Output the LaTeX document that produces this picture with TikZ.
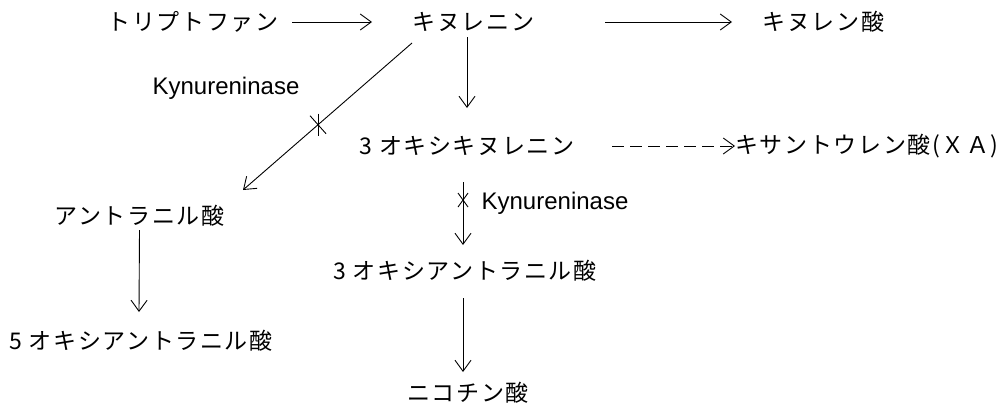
\documentclass[tikz,border=0pt]{standalone}
\usepackage{fontspec}
\usetikzlibrary{arrows.meta}
\newfontfamily\jpfont[LetterSpace=7]{Noto Sans CJK JP}
\newfontfamily\enfont{Liberation Sans}
\tikzset{
  jp/.style={inner sep=0pt, font=\jpfont\fontsize{23}{27}\selectfont},
  en/.style={inner sep=0pt, font=\enfont\fontsize{24}{28}\selectfont},
  arr/.style={-{Straight Barb[length=11pt,width=16pt]}, line width=0.9pt},
  dasharr/.style={arr, dash pattern=on 12pt off 6pt},
  crossmark/.style={line width=0.9pt}
}
\begin{document}
\begin{tikzpicture}[x=1pt,y=-1pt]
\useasboundingbox[fill=white] (0,0) rectangle (1003,405);
% nodes
\node[jp] (tryp) at (193,22) {トリプトファン};
\node[jp] (kyn)  at (473.5,22) {キヌレニン};
\node[jp] (kyna) at (823.5,22) {キヌレン酸};
\node[en] (enz1) at (226,88) {Kynureninase};
\node[jp] (hk)   at (467,146) {3 オキシキヌレニン};
\node[jp] (xa)   at (867,146) {キサントウレン酸(ＸＡ)};
\node[jp] (anth) at (139.5,216) {アントラニル酸};
\node[en] (enz2) at (555,203) {Kynureninase};
\node[jp] (haa)  at (465,271) {3 オキシアントラニル酸};
\node[jp] (oaa)  at (141,341) {5 オキシアントラニル酸};
\node[jp] (nic)  at (468,393) {ニコチン酸};
% connectors
\draw[arr] ([xshift=99pt]tryp.center) -- ([xshift=-101.5pt]kyn.center);
\draw[arr] ([xshift=131.5pt]kyn.center) -- ([xshift=-91.5pt]kyna.center);
\draw[arr] ([xshift=-6.5pt,yshift=-15pt]kyn.center) -- ([yshift=38pt]hk.center);
\draw[arr] ([xshift=-61.5pt,yshift=-21pt]kyn.center) -- coordinate[pos=0.556] (c1) ([xshift=103.5pt,yshift=26pt]anth.center);
\draw[crossmark] ([shift={(0,-11)}]c1) -- ([shift={(0,11)}]c1);
\draw[crossmark] ([shift={(-8,-9)}]c1) -- ([shift={(8,9)}]c1);
\draw[dasharr] ([xshift=145pt]hk.center) -- ([xshift=-132pt]xa.center);
\draw[arr] ([xshift=-4pt,yshift=-36pt]hk.center) -- coordinate[pos=0.286] (c2) ([xshift=-2pt,yshift=26pt]haa.center);
\draw[crossmark] ([shift={(-5,-7)}]c2) -- ([shift={(5,7)}]c2);
\draw[crossmark] ([shift={(5,-7)}]c2) -- ([shift={(-5,7)}]c2);
\draw[arr] ([yshift=-14pt]anth.center) -- ([xshift=-2pt,yshift=29pt]oaa.center);
\draw[arr] ([xshift=-2pt,yshift=-27pt]haa.center) -- ([xshift=-5pt,yshift=21pt]nic.center);
\end{tikzpicture}
\end{document}
